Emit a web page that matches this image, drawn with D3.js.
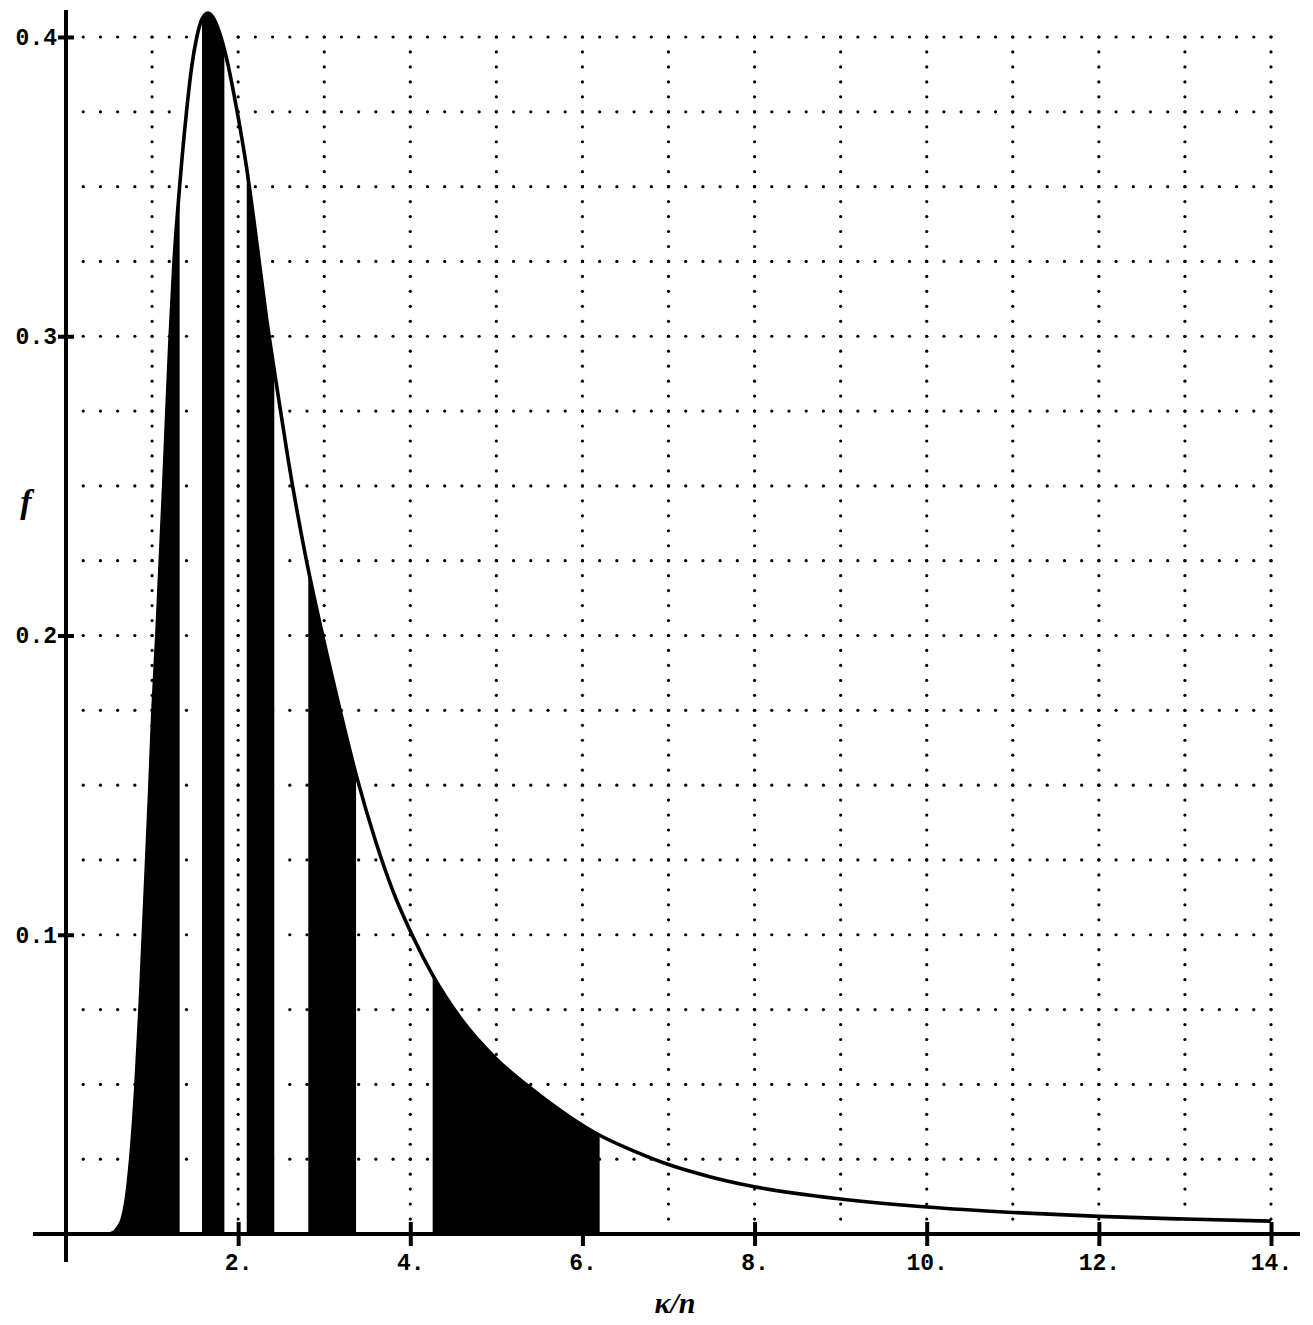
<!DOCTYPE html>
<html>
<head>
<meta charset="utf-8">
<script src="https://cdn.jsdelivr.net/npm/d3@7"></script>
<style>
  html, body { margin: 0; padding: 0; background: #fff; }
  svg { display: block; }
</style>
</head>
<body>
<svg id="chart" width="1313" height="1325"></svg>
<script>
// Density curve f(κ/n): abscissa and ordinate samples
const kappa = [0, 0.48, 0.55, 0.60, 0.654, 0.697, 0.751, 0.813, 0.859, 0.898, 0.937, 0.975,
  1.01, 1.055, 1.095, 1.135, 1.172, 1.21, 1.255, 1.32, 1.40, 1.46, 1.52, 1.58, 1.65,
  1.72, 1.80, 1.88, 1.95, 2.02, 2.10, 2.20, 2.33, 2.45, 2.58, 2.78, 2.97, 3.16, 3.38,
  3.60, 3.80, 4.02, 4.26, 4.60, 5.00, 5.50, 6.20, 6.60, 7.00, 7.50, 8.00, 9.00, 10.0, 11.0, 12.0, 13.0, 14.0];
const density = [0, 0, 0.0005, 0.002, 0.005, 0.011, 0.025, 0.05, 0.075, 0.1, 0.125, 0.15,
  0.175, 0.2, 0.225, 0.25, 0.275, 0.3, 0.325, 0.35, 0.375, 0.39, 0.40, 0.406, 0.408,
  0.406, 0.400, 0.391, 0.381, 0.370, 0.356, 0.335, 0.306, 0.283, 0.259, 0.227, 0.2015, 0.178, 0.1525,
  0.131, 0.1145, 0.1, 0.0865, 0.0715, 0.0585, 0.0465, 0.0330, 0.0277, 0.0232, 0.0190, 0.0158, 0.0117, 0.0090, 0.0072, 0.0059, 0.0050, 0.0043];

// Shaded intervals under the curve
const shadedFrom = [0, 1.58, 2.10, 2.815, 4.26];
const shadedTo   = [1.32, 1.84, 2.42, 3.37, 6.20];

// Axis ticks and labels
const xTickValues = [2, 4, 6, 8, 10, 12, 14];
const xTickLabels = ["2.", "4.", "6.", "8.", "10.", "12.", "14."];
const yTickValues = [0.1, 0.2, 0.3, 0.4];
const yTickLabels = ["0.1", "0.2", "0.3", "0.4"];

// Dotted grid: columns at every unit of κ/n, rows every 0.025 of f
const xGridValues = d3.range(1, 15);
const yGridValues = d3.range(1, 17).map(i => +(i * 0.025).toFixed(3));
const rowDotSteps = d3.range(1, 71).map(i => +(i * 0.2).toFixed(2));
const colDotSteps = d3.range(1, 81).map(i => +(i * 0.005).toFixed(3));

const svg = d3.select("#chart");
const x = d3.scaleLinear().domain([0, 14]).range([66, 1271]);
const y = d3.scaleLinear().domain([0, 0.4]).range([1234, 37]);

const pts = kappa.map((k, i) => [k, density[i]]);

// ---- grid dots ----
const grid = svg.append("g").attr("fill", "#000");
yGridValues.forEach(fv => {
  grid.selectAll(null).data(rowDotSteps).join("circle")
    .attr("cx", d => x(d)).attr("cy", y(fv)).attr("r", 1.6);
});
xGridValues.forEach(kv => {
  grid.selectAll(null).data(colDotSteps).join("circle")
    .attr("cx", x(kv)).attr("cy", d => y(d)).attr("r", 1.6);
});

// ---- shaded bands ----
const area = d3.area()
  .x(d => x(d[0])).y0(y(0)).y1(d => y(d[1]))
  .curve(d3.curveMonotoneX);
const defs = svg.append("defs");
shadedFrom.forEach((a, i) => {
  defs.append("clipPath").attr("id", "band" + i)
    .append("rect")
    .attr("x", x(a)).attr("y", 0)
    .attr("width", x(shadedTo[i]) - x(a))
    .attr("height", y(0));
  svg.append("path")
    .datum(pts)
    .attr("clip-path", `url(#band${i})`)
    .attr("d", area)
    .attr("fill", "#000");
});

// ---- curve ----
const line = d3.line().x(d => x(d[0])).y(d => y(d[1])).curve(d3.curveMonotoneX);
svg.append("path").datum(pts)
  .attr("d", line)
  .attr("fill", "none").attr("stroke", "#000")
  .attr("stroke-width", 3.6).attr("stroke-linejoin", "round");

// ---- axes ----
const axisColor = "#000";
svg.append("line")
  .attr("x1", x(0) - 33).attr("x2", x(14) + 29)
  .attr("y1", y(0)).attr("y2", y(0))
  .attr("stroke", axisColor).attr("stroke-width", 4);
svg.append("line")
  .attr("x1", x(0)).attr("x2", x(0))
  .attr("y1", y(0.4) - 27).attr("y2", y(0) + 28)
  .attr("stroke", axisColor).attr("stroke-width", 4);

const labelFont = "'Liberation Mono', 'DejaVu Sans Mono', monospace";

const xAxis = d3.axisBottom(x)
  .tickValues(xTickValues)
  .tickFormat((d, i) => xTickLabels[i])
  .tickSize(12).tickPadding(12);
const gx = svg.append("g").attr("transform", `translate(0,${y(0)})`).call(xAxis);
gx.select(".domain").remove();
gx.selectAll(".tick line")
  .attr("y1", -12).attr("y2", 12)
  .attr("stroke", axisColor).attr("stroke-width", 4);
gx.selectAll(".tick text")
  .attr("y", 20)
  .attr("dy", "0.71em")
  .attr("fill", "#000")
  .style("font-family", labelFont)
  .style("font-weight", "bold")
  .style("font-size", "23px");

const yAxis = d3.axisLeft(y)
  .tickValues(yTickValues)
  .tickFormat((d, i) => yTickLabels[i])
  .tickSize(8).tickPadding(2);
const gy = svg.append("g").attr("transform", `translate(${x(0)},0)`).call(yAxis);
gy.select(".domain").remove();
gy.selectAll(".tick line")
  .attr("x1", -8).attr("x2", 8)
  .attr("stroke", axisColor).attr("stroke-width", 4);
gy.selectAll(".tick text")
  .attr("x", -9)
  .attr("fill", "#000")
  .style("font-family", labelFont)
  .style("font-weight", "bold")
  .style("font-size", "23px");

// ---- axis titles ----
const titleFont = "'Liberation Serif', 'DejaVu Serif', serif";
svg.append("text")
  .attr("x", 675).attr("y", 1313)
  .attr("text-anchor", "middle")
  .style("font-family", titleFont)
  .style("font-style", "italic").style("font-weight", "bold")
  .style("font-size", "30px")
  .text("κ/n");
svg.append("text")
  .attr("x", 26).attr("y", 513)
  .attr("text-anchor", "middle")
  .style("font-family", titleFont)
  .style("font-style", "italic").style("font-weight", "bold")
  .style("font-size", "34px")
  .text("f");
</script>
</body>
</html>
